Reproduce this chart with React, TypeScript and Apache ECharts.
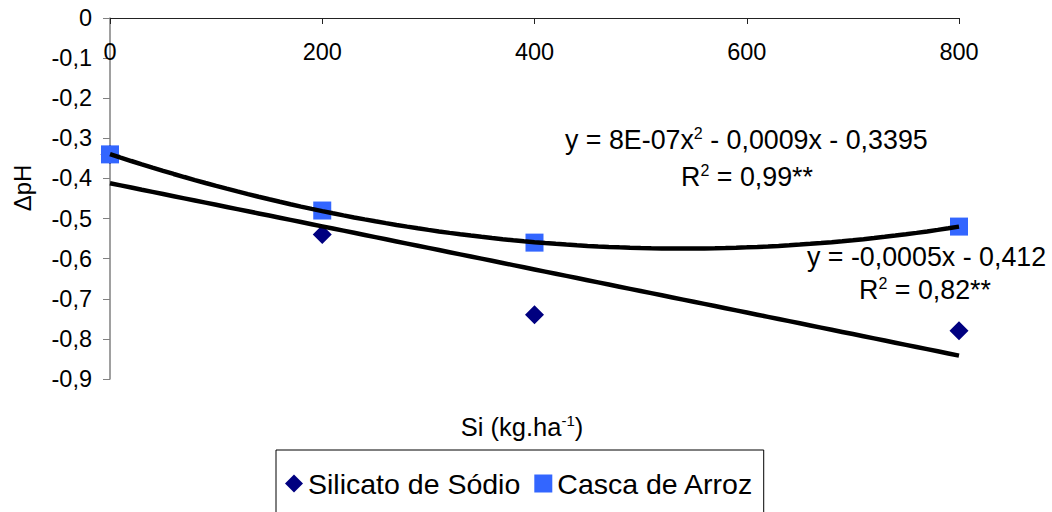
import React, { useEffect, useRef } from "react";
import * as echarts from "echarts";

const doses = [0, 200, 400, 800];
const silicatoValues = [-0.34, -0.54, -0.74, -0.78];
const cascaValues = [-0.34, -0.48, -0.56, -0.52];
const xTicks = [0, 200, 400, 600, 800];
const yTicks = [0, -0.1, -0.2, -0.3, -0.4, -0.5, -0.6, -0.7, -0.8, -0.9];
const seriesNames = ["Silicato de Sódio", "Casca de Arroz"];

const FONT = "'Liberation Sans', Arial, sans-serif";

function linearFit(xs: number[], ys: number[]) {
  const n = xs.length;
  const mx = xs.reduce((a, b) => a + b, 0) / n;
  const my = ys.reduce((a, b) => a + b, 0) / n;
  let sxy = 0, sxx = 0;
  for (let i = 0; i < n; i++) {
    sxy += (xs[i] - mx) * (ys[i] - my);
    sxx += (xs[i] - mx) * (xs[i] - mx);
  }
  const b = sxy / sxx;
  return { a: my - b * mx, b };
}

function quadFit(xs: number[], ys: number[]) {
  const s = [0, 0, 0, 0, 0];
  const t = [0, 0, 0];
  for (let i = 0; i < xs.length; i++) {
    for (let k = 0; k < 5; k++) s[k] += Math.pow(xs[i], k);
    for (let k = 0; k < 3; k++) t[k] += ys[i] * Math.pow(xs[i], k);
  }
  const M = [
    [s[0], s[1], s[2], t[0]],
    [s[1], s[2], s[3], t[1]],
    [s[2], s[3], s[4], t[2]],
  ];
  for (let c = 0; c < 3; c++) {
    let p = c;
    for (let r = c + 1; r < 3; r++) if (Math.abs(M[r][c]) > Math.abs(M[p][c])) p = r;
    [M[c], M[p]] = [M[p], M[c]];
    for (let r = 0; r < 3; r++) {
      if (r === c) continue;
      const f = M[r][c] / M[c][c];
      for (let k = c; k < 4; k++) M[r][k] -= f * M[c][k];
    }
  }
  return [M[0][3] / M[0][0], M[1][3] / M[1][1], M[2][3] / M[2][2]];
}

export default function App() {
  const ref = useRef<HTMLDivElement>(null);

  useEffect(() => {
    if (!ref.current) return;
    const chart = echarts.init(ref.current, undefined, { renderer: "svg" });

    const lin = linearFit(doses, silicatoValues);
    const quad = quadFit(doses, cascaValues);
    const xmin = doses[0];
    const xmax = doses[doses.length - 1];
    const steps = 80;
    const linPts: number[][] = [];
    const quadPts: number[][] = [];
    for (let i = 0; i <= steps; i++) {
      const x = xmin + ((xmax - xmin) * i) / steps;
      linPts.push([x, lin.a + lin.b * x]);
      quadPts.push([x, quad[0] + quad[1] * x + quad[2] * x * x]);
    }

    const rich = {
      n: { fontSize: 26.8, fontFamily: FONT, color: "#000" },
      sup: { fontSize: 16, fontFamily: FONT, color: "#000", verticalAlign: "top", padding: [0, 0, 14, 0] },
    };

    chart.setOption({
      animation: false,
      backgroundColor: "#fff",
      textStyle: { fontFamily: FONT },
      grid: { left: 110, top: 18, right: 93, bottom: 133, containLabel: false },
      xAxis: {
        type: "value",
        position: "top",
        min: xTicks[0],
        max: xTicks[xTicks.length - 1],
        interval: xTicks[1] - xTicks[0],
        axisLine: { onZero: false, lineStyle: { color: "#222", width: 1 } },
        axisTick: { inside: true, length: 6, lineStyle: { color: "#222" } },
        axisLabel: { inside: true, margin: 22, fontSize: 23.5, color: "#000", fontFamily: FONT },
        splitLine: { show: false },
      },
      yAxis: {
        type: "value",
        min: yTicks[yTicks.length - 1],
        max: yTicks[0],
        interval: 0.1,
        axisLine: { show: true, onZero: false, lineStyle: { color: "#808080", width: 1.5 } },
        axisTick: { show: true, length: 7, lineStyle: { color: "#808080" } },
        axisLabel: {
          margin: 18,
          fontSize: 23.5,
          color: "#000",
          fontFamily: FONT,
          formatter: (v: number) => {
            const r = Math.round(v * 10) / 10;
            return r === 0 ? "0" : r.toFixed(1).replace(".", ",");
          },
        },
        splitLine: { show: false },
      },
      legend: {
        data: [
          { name: seriesNames[0], icon: "diamond" },
          { name: seriesNames[1], icon: "rect" },
        ],
        left: 276,
        top: 450,
        orient: "horizontal",
        itemWidth: 18,
        itemHeight: 18,
        itemGap: 14,
        padding: [19, 10, 40, 9],
        borderColor: "#000",
        borderWidth: 1,
        textStyle: { fontSize: 28.5, color: "#000", fontFamily: FONT },
      },
      series: [
        {
          name: seriesNames[0],
          type: "scatter",
          data: doses.map((d, i) => [d, silicatoValues[i]]),
          symbol: "diamond",
          symbolSize: 19,
          itemStyle: { color: "#000080", opacity: 1 },
          z: 2,
        },
        {
          name: seriesNames[1],
          type: "scatter",
          data: doses.map((d, i) => [d, cascaValues[i]]),
          symbol: "rect",
          symbolSize: 18,
          itemStyle: { color: "#3366FF", opacity: 1 },
          z: 3,
        },
        {
          name: "trend-lin",
          type: "line",
          data: linPts,
          showSymbol: false,
          symbol: "none",
          lineStyle: { color: "#000", width: 4.5 },
          z: 4,
          silent: true,
        },
        {
          name: "trend-quad",
          type: "line",
          data: quadPts,
          showSymbol: false,
          symbol: "none",
          lineStyle: { color: "#000", width: 4.5 },
          z: 4,
          silent: true,
        },
      ],
      graphic: [
        {
          type: "text",
          x: 565,
          y: 140,
          style: {
            text: "{n|y = 8E-07x}{sup|2}{n| - 0,0009x - 0,3395}",
            rich,
            verticalAlign: "middle",
          },
        },
        {
          type: "text",
          x: 747,
          y: 177,
          style: {
            text: "{n|R}{sup|2}{n| = 0,99**}",
            rich,
            align: "center",
            verticalAlign: "middle",
          },
        },
        {
          type: "text",
          x: 807,
          y: 257,
          style: {
            text: "{n|y = -0,0005x - 0,412}",
            rich,
            verticalAlign: "middle",
          },
        },
        {
          type: "text",
          x: 925,
          y: 290,
          style: {
            text: "{n|R}{sup|2}{n| = 0,82**}",
            rich,
            align: "center",
            verticalAlign: "middle",
          },
        },
        {
          type: "text",
          x: 522,
          y: 427,
          style: {
            text: "{n|Si (kg.ha}{sup|-1}{n|)}",
            rich: {
              n: { fontSize: 25.5, fontFamily: FONT, color: "#000" },
              sup: { fontSize: 15, fontFamily: FONT, color: "#000", verticalAlign: "top", padding: [0, 0, 13, 0] },
            },
            align: "center",
            verticalAlign: "middle",
          },
        },
        {
          type: "text",
          x: 22,
          y: 188,
          rotation: Math.PI / 2,
          style: {
            text: "ΔpH",
            fontSize: 24,
            fontFamily: FONT,
            fill: "#000",
            align: "center",
            verticalAlign: "middle",
          },
        },
      ],
    });

    return () => chart.dispose();
  }, []);

  return (
    <div
      ref={ref}
      style={{ position: "fixed", left: 0, top: 0, width: 1052, height: 512, background: "#fff" }}
    />
  );
}
